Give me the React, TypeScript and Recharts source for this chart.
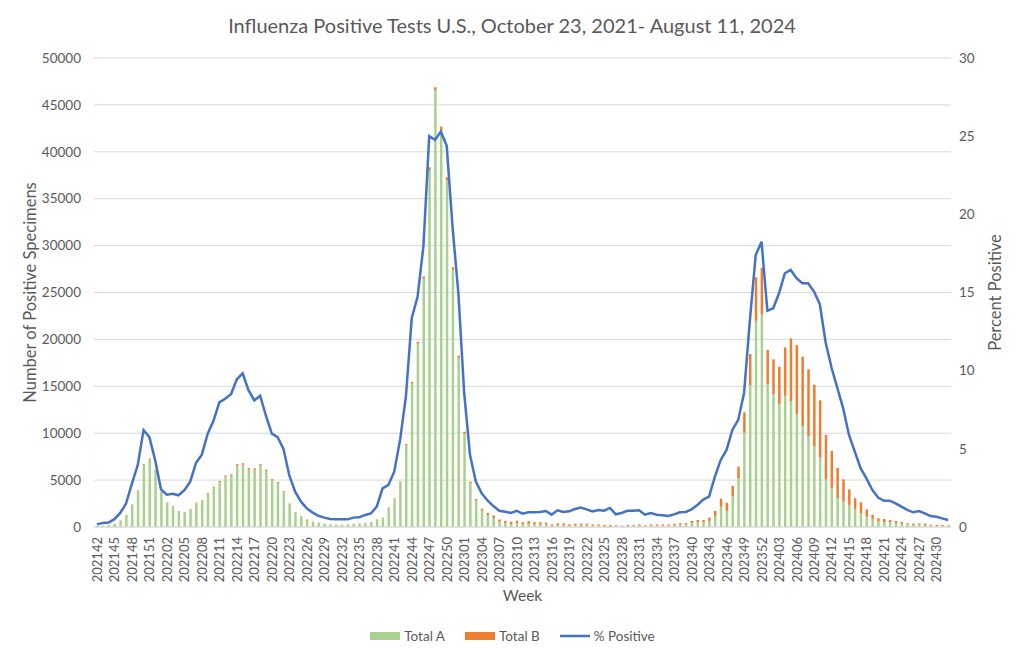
import React from 'react';
import { ComposedChart, Bar, Line, XAxis, YAxis, CartesianGrid, Legend } from 'recharts';

const weeks: string[] = [
  '202142','202143','202144','202145','202146','202147','202148','202149','202150','202151','202152',
  '202201','202202','202203','202204','202205','202206','202207','202208','202209','202210','202211','202212','202213',
  '202214','202215','202216','202217','202218','202219','202220','202221','202222','202223','202224','202225','202226',
  '202227','202228','202229','202230','202231','202232','202233','202234','202235','202236','202237','202238','202239',
  '202240','202241','202242','202243','202244','202245','202246','202247','202248','202249','202250','202251','202252',
  '202301','202302','202303','202304','202305','202306','202307','202308','202309','202310','202311','202312','202313',
  '202314','202315','202316','202317','202318','202319','202320','202321','202322','202323','202324','202325','202326',
  '202327','202328','202329','202330','202331','202332','202333','202334','202335','202336','202337','202338','202339',
  '202340','202341','202342','202343','202344','202345','202346','202347','202348','202349','202350','202351','202352',
  '202401','202402','202403','202404','202405','202406','202407','202408','202409','202410','202411','202412','202413',
  '202414','202415','202416','202417','202418','202419','202420','202421','202422','202423','202424','202425','202426',
  '202427','202428','202429','202430','202431','202432',
];

const totalA: number[] = [
  95, 145, 195, 340, 685, 1280, 2360, 3840, 6600, 7190, 6000,
  3630, 2540, 2200, 1660, 1560, 1850, 2540, 2780, 3520, 4200, 4790, 5380, 5470,
  6560, 6650, 6160, 6110, 6560, 5970, 4980, 4690, 3760, 2440, 1560, 1120, 795,
  580, 440, 345, 275, 235, 235, 275, 340, 380, 440, 515, 790, 965,
  2025, 2990, 4770, 8730, 15290, 19550, 26470, 38050, 46530, 42330, 36960, 27410, 18040,
  9960, 4650, 2820, 1750, 1250, 940, 550, 410, 330, 380, 270, 340, 260,
  250, 230, 130, 190, 190, 130, 170, 170, 170, 140, 140, 100, 100,
  90, 70, 110, 110, 150, 90, 150, 150, 160, 160, 210, 270, 270,
  420, 500, 500, 640, 1170, 2170, 1710, 3300, 5190, 10050, 15140, 21990, 22710,
  15240, 14180, 13080, 14000, 13430, 12050, 10770, 9700, 8560, 7400, 5080, 4120, 3050,
  2700, 2350, 1880, 1460, 1100, 820, 600, 530, 500, 430, 360, 250, 210,
  250, 210, 140, 110, 110, 70,
];

const totalB: number[] = [
  5, 5, 5, 10, 15, 20, 40, 60, 100, 110, 100,
  70, 60, 50, 40, 40, 50, 60, 70, 80, 100, 110, 120, 130,
  140, 150, 140, 140, 140, 130, 120, 110, 90, 60, 40, 30, 25,
  20, 20, 15, 15, 15, 15, 15, 20, 20, 20, 25, 30, 35,
  45, 60, 80, 120, 170, 200, 250, 300, 350, 350, 320, 280, 230,
  200, 180, 170, 200, 250, 280, 250, 250, 240, 300, 230, 300, 240,
  250, 230, 150, 200, 200, 150, 180, 180, 180, 140, 140, 110, 110,
  90, 70, 100, 100, 130, 90, 130, 130, 120, 120, 140, 150, 150,
  220, 250, 250, 360, 540, 850, 880, 1070, 1240, 2180, 3300, 4630, 4930,
  3630, 3690, 4010, 5150, 6680, 7350, 7390, 7110, 6610, 6100, 4730, 3980, 3250,
  2380, 1670, 1180, 1170, 780, 460, 320, 320, 250, 210, 170, 140, 150,
  140, 150, 110, 100, 100, 110,
];

const pctPositive: number[] = [
  0.17, 0.26, 0.28, 0.5, 0.9, 1.5, 2.77, 3.95, 6.2, 5.75, 4.26,
  2.4, 2.07, 2.13, 2.03, 2.35, 2.9, 4.1, 4.63, 5.97, 6.8, 7.97, 8.2, 8.5,
  9.45, 9.83, 8.75, 8.1, 8.4, 7.1, 5.97, 5.75, 5.0, 3.3, 2.26, 1.62, 1.19,
  0.92, 0.72, 0.6, 0.51, 0.49, 0.49, 0.49, 0.6, 0.62, 0.77, 0.87, 1.3, 2.47,
  2.69, 3.54, 5.57, 8.34, 13.35, 14.73, 17.93, 25.0, 24.76, 25.29, 24.38, 19.2, 14.95,
  8.55, 4.6, 2.9, 2.15, 1.7, 1.34, 1.04, 0.98, 0.9, 1.04, 0.85, 0.94, 0.94,
  0.96, 1.02, 0.79, 1.07, 0.96, 1.0, 1.15, 1.24, 1.13, 1.0, 1.09, 1.04, 1.22,
  0.81, 0.9, 1.04, 1.04, 1.07, 0.79, 0.9, 0.79, 0.75, 0.7, 0.81, 0.94, 0.96,
  1.13, 1.41, 1.75, 1.94, 3.22, 4.29, 4.93, 6.21, 6.85, 8.55, 13.2, 17.4, 18.25,
  13.84, 13.99, 14.95, 16.23, 16.44, 15.91, 15.59, 15.59, 15.06, 14.25, 11.8, 10.2, 8.9,
  7.59, 5.89, 4.82, 3.75, 3.11, 2.37, 1.88, 1.68, 1.68, 1.51, 1.3, 1.09, 0.94,
  1.02, 0.87, 0.7, 0.66, 0.55, 0.45,
];

const leftTicks = [0, 5000, 10000, 15000, 20000, 25000, 30000, 35000, 40000, 45000, 50000];
const rightTicks = [0, 5, 10, 15, 20, 25, 30];
const legendOrder = ['Total A', 'Total B', '% Positive'];

const data = weeks.map((w, i) => ({ week: w, a: totalA[i], b: totalB[i], p: pctPositive[i] }));

const FONT = 'Lato, "Open Sans", sans-serif';
const GREY = '#595959';
const GREEN = '#A9D18E';
const ORANGE = '#ED7D31';
const BLUE = '#4472C4';

function WeekTick(props: any) {
  const { x, y, payload } = props;
  return (
    <text
      x={x}
      y={y}
      transform={`rotate(-90 ${x} ${y})`}
      textAnchor="end"
      dominantBaseline="central"
      fontSize={13}
      fill={GREY}
      fontFamily={FONT}
    >
      {payload.value}
    </text>
  );
}

function LegendContent(props: any) {
  const payload = [...(props.payload || [])].sort(
    (p: any, q: any) => legendOrder.indexOf(p.value) - legendOrder.indexOf(q.value)
  );
  return (
    <div style={{ display: 'flex', justifyContent: 'center', alignItems: 'center', gap: 20, fontFamily: FONT, fontSize: 13.5, color: GREY, lineHeight: '16px' }}>
      {payload.map((entry: any) => (
        <div key={entry.value} style={{ display: 'flex', alignItems: 'center', gap: 4 }}>
          <svg width={30} height={10}>
            {entry.type === 'line' ? (
              <line x1={0} y1={5} x2={30} y2={5} stroke={entry.color} strokeWidth={2.5} />
            ) : (
              <rect x={0} y={1} width={30} height={8} fill={entry.color} />
            )}
          </svg>
          <span>{entry.value}</span>
        </div>
      ))}
    </div>
  );
}

export default function App() {
  return (
    <div style={{ position: 'absolute', left: 0, top: 0, width: 1024, height: 660, background: '#fff' }}>
      <div
        style={{
          position: 'absolute',
          top: 12,
          left: 0,
          width: 1024,
          textAlign: 'center',
          fontFamily: FONT,
          fontSize: 20,
          color: GREY,
          lineHeight: '26px',
          zIndex: 2,
        }}
      >
        Influenza Positive Tests U.S., October 23, 2021- August 11, 2024
      </div>
      <ComposedChart
        width={1024}
        height={660}
        data={data}
        margin={{ top: 58, right: 33, left: 34, bottom: 16 }}
        barSize={2.5}
      >
        <CartesianGrid vertical={false} stroke="#D9D9D9" yAxisId="left" />
        <XAxis
          dataKey="week"
          interval={2}
          tick={<WeekTick />}
          tickLine={false}
          tickSize={0}
          tickMargin={10}
          axisLine={{ stroke: '#D9D9D9' }}
          height={101}
          label={{
            value: 'Week',
            position: 'insideBottom',
            offset: 27,
            style: { fontFamily: FONT, fontSize: 15.5, fill: GREY },
          }}
        />
        <YAxis
          yAxisId="left"
          domain={[0, 50000]}
          ticks={leftTicks}
          width={60}
          tickLine={false}
          axisLine={false}
          tickSize={0}
          tickMargin={13}
          tick={{ fontFamily: FONT, fontSize: 13.5, fill: GREY }}
          label={{
            value: 'Number of Positive Specimens',
            angle: -90,
            position: 'insideLeft',
            offset: -4,
            style: { textAnchor: 'middle', fontFamily: FONT, fontSize: 16.5, fill: GREY },
          }}
        />
        <YAxis
          yAxisId="right"
          orientation="right"
          domain={[0, 30]}
          ticks={rightTicks}
          width={40}
          tickLine={false}
          axisLine={false}
          tickSize={0}
          tickMargin={8}
          tick={{ fontFamily: FONT, fontSize: 13.5, fill: GREY }}
          label={{
            value: 'Percent Positive',
            angle: -90,
            position: 'insideRight',
            offset: -4,
            style: { textAnchor: 'middle', fontFamily: FONT, fontSize: 16.5, fill: GREY },
          }}
        />
        <Bar yAxisId="left" dataKey="a" name="Total A" stackId="s" fill={GREEN} isAnimationActive={false} />
        <Bar yAxisId="left" dataKey="b" name="Total B" stackId="s" fill={ORANGE} isAnimationActive={false} />
        <Line
          yAxisId="right"
          dataKey="p"
          name="% Positive"
          type="linear"
          stroke={BLUE}
          strokeWidth={2.5}
          dot={false}
          isAnimationActive={false}
        />
        <Legend verticalAlign="bottom" content={<LegendContent />} />
      </ComposedChart>
    </div>
  );
}
